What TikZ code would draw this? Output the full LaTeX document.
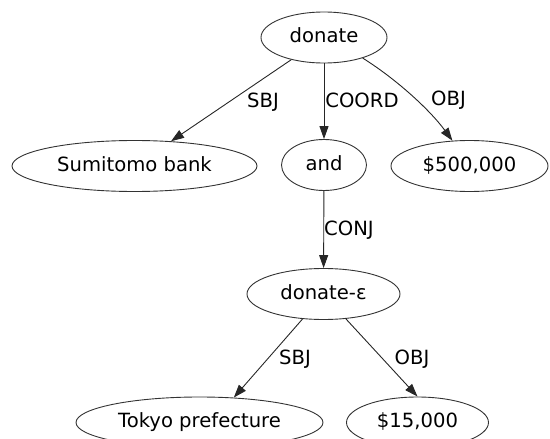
\documentclass[tikz,border=0pt]{standalone}
\usepackage{fontspec}
\setmainfont{DejaVu Sans}
\usetikzlibrary{arrows.meta,shapes.geometric}

\begin{document}
\begin{tikzpicture}[x=1pt, y=-1pt,
    word/.style={ellipse, draw=black!80, line width=0.9pt, inner sep=0pt,
    minimum height=51pt, text height=14pt, text depth=4pt, font=\fontsize{19.6}{23}\selectfont},
    lab/.style={inner sep=0pt, font=\fontsize{19.6}{23}\selectfont},
    arr/.style={-{Triangle[length=13pt,width=9pt]}, line width=0.9pt, draw=black!85}]
\useasboundingbox (0,0) rectangle (550,439);
% words
\node[word, minimum width=126pt] (donate) at (324,37.5) {donate};
\node[word, minimum width=245pt] (sumitomo) at (134.5,166) {Sumitomo bank};
\node[word, minimum width=85pt] (and) at (324,165) {and};
\node[word, minimum width=157pt] (amount1) at (469.5,166) {\$500,000};
\node[word, minimum width=153pt] (donateeps) at (323.5,294) {donate-ε};
\node[word, minimum width=247pt] (tokyo) at (199.5,422.5) {Tokyo prefecture};
\node[word, minimum width=142pt] (amount2) at (417.5,422.5) {\$15,000};
% relations
\draw[arr] (donate) -- (sumitomo);
\draw[arr] (donate) -- (and);
\draw[arr] (donate.-28) .. controls +(35,22) and +(-22,-30) .. (amount1.124);
\draw[arr] (and) -- (donateeps);
\draw[arr] (donateeps.230) -- (tokyo.36);
\draw[arr] (donateeps.-48) -- (amount2.north);
% labels
\node[lab] (sbj1) at (263,102) {SBJ};
\node[lab] (coord) at (362,100) {COORD};
\node[lab] (obj1) at (448.5,100) {OBJ};
\node[lab] (conj) at (349,230) {CONJ};
\node[lab] (sbj2) at (295,359) {SBJ};
\node[lab] (obj2) at (412,359) {OBJ};
\end{tikzpicture}
\end{document}
